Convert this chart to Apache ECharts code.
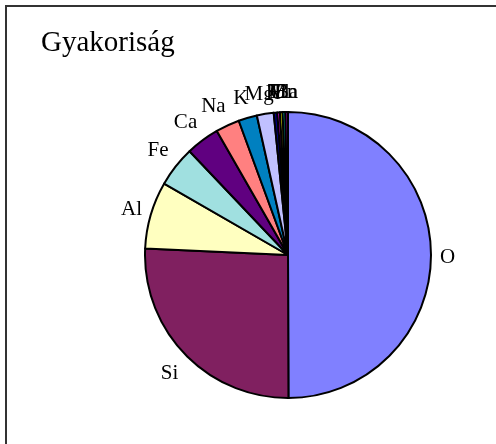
<!DOCTYPE html>
<html>
<head>
<meta charset="utf-8">
<script src="https://cdn.jsdelivr.net/npm/echarts@6/dist/echarts.min.js"></script>
<style>
  html, body { margin: 0; padding: 0; background: #fff; }
  #chart { width: 496px; height: 444px; }
</style>
</head>
<body>
<div id="chart"></div>
<script>
// element abundance (%)
const elements = ["O", "Si", "Al", "Fe", "Ca", "Na", "K", "Mg", "H", "Ti", "Cl", "Mn", "Ba"];
const values = [50.0, 25.8, 7.6, 4.6, 3.8, 2.7, 2.1, 1.9, 0.4, 0.3, 0.3, 0.3, 0.3];
const colors = ["#8080FF", "#802060", "#FFFFC0", "#A0E0E0", "#600080", "#FF8080",
  "#0080C0", "#C0C0FF", "#000080", "#FF00FF", "#FFFF00", "#00FFFF", "#800080"];

const cx = 288, cy = 255, radius = 143;
const total = values.reduce((a, b) => a + b, 0);

// mid angle of each slice, clockwise from 12 o'clock
const midAngles = [];
let acc = 0;
values.forEach((v) => {
  midAngles.push(((acc + v / 2) / total) * Math.PI * 2);
  acc += v;
});

const clamp = (v) => Math.max(-1, Math.min(1, v));

const chart = echarts.init(document.getElementById("chart"));

chart.setOption({
  backgroundColor: "#fff",
  animation: false,
  title: {
    text: "Gyakoriság",
    left: 36,
    top: 24,
    textStyle: {
      fontFamily: "Liberation Serif",
      fontSize: 29,
      fontWeight: "normal",
      color: "#000",
    },
  },
  graphic: [
    {
      type: "rect",
      shape: { x: 6, y: 6, width: 700, height: 700 },
      style: { fill: "none", stroke: "#333", lineWidth: 2 },
      silent: true,
    },
  ],
  series: [
    {
      type: "pie",
      center: [cx, cy],
      radius: radius,
      startAngle: 90,
      clockwise: true,
      avoidLabelOverlap: false,
      minShowLabelAngle: 0,
      itemStyle: { borderColor: "#000", borderWidth: 2 },
      label: {
        show: true,
        position: "outside",
        fontFamily: "Liberation Serif",
        fontSize: 21,
        color: "#000",
      },
      labelLine: { show: false, length: 8, length2: 0 },
      labelLayout: function (params) {
        // place label box next to the slice like the spreadsheet does
        const a = midAngles[params.dataIndex];
        const s = Math.sin(a), c = Math.cos(a);
        const R = radius + 9;
        const w = params.labelRect.width, h = params.labelRect.height;
        return {
          x: cx + R * s + (w / 2) * clamp(2 * s),
          y: cy - R * c - (h / 2) * clamp(2 * c) + (c < 0.3 ? 3 : 0),
          align: "center",
          verticalAlign: "middle",
        };
      },
      emphasis: { disabled: true },
      data: elements.map((name, i) => ({
        name: name,
        value: values[i],
        itemStyle: { color: colors[i] },
      })),
    },
  ],
});
</script>
</body>
</html>
